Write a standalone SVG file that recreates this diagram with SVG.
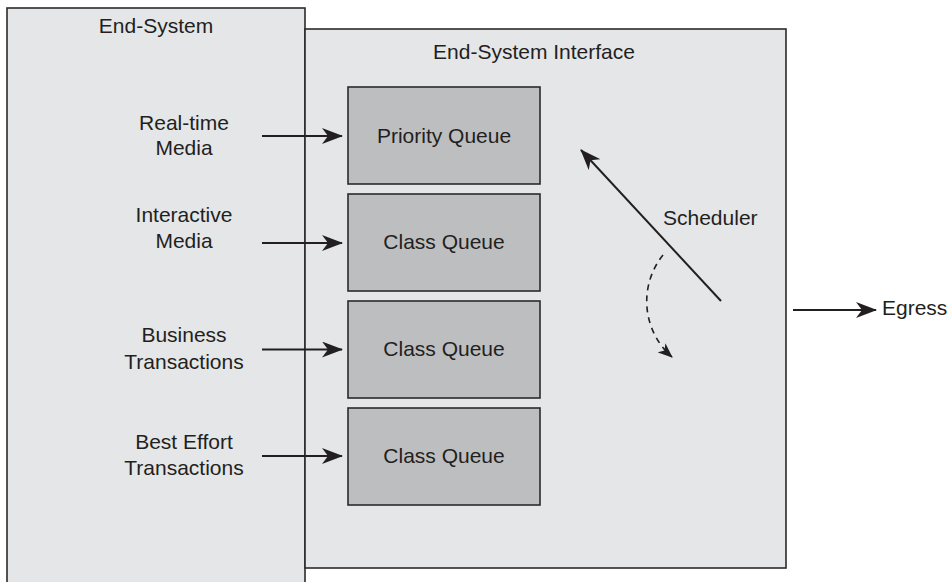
<svg xmlns="http://www.w3.org/2000/svg" width="952" height="582" viewBox="0 0 952 582">
<style>
.box{fill:#e5e6e8;stroke:#2b2b2b;stroke-width:1.6}
.q{fill:#bdbec0;stroke:#2b2b2b;stroke-width:1.6}
text{font-family:"Liberation Sans",Arial,sans-serif;font-size:21px;fill:#231f20}
.c{text-anchor:middle}
.ln{stroke:#231f20;stroke-width:2;fill:none}
.dash{stroke:#231f20;stroke-width:1.6;fill:none;stroke-dasharray:6 5}
</style>
<defs>
<marker id="ah" viewBox="0 0 21 16" refX="20" refY="8" markerWidth="21" markerHeight="16" markerUnits="userSpaceOnUse" orient="auto">
<path d="M0,0 L21,8 L0,16 L6,8 z" fill="#231f20"/>
</marker>
<marker id="ahs" viewBox="0 0 15 12" refX="14" refY="6" markerWidth="15" markerHeight="12" markerUnits="userSpaceOnUse" orient="auto">
<path d="M0,0 L15,6 L0,12 L4,6 z" fill="#231f20"/>
</marker>
</defs>
<g id="end-system">
<rect class="box" x="7" y="8" width="298" height="600"/>
<text class="c" x="156" y="33">End-System</text>
</g>
<g id="end-system-interface">
<rect class="box" x="305" y="29" width="481" height="539"/>
<text class="c" x="534" y="59">End-System Interface</text>
</g>
<g id="priority-queue">
<rect class="q" x="348" y="87" width="192" height="97"/>
<text class="c" x="444" y="143">Priority Queue</text>
</g>
<g id="class-queue-1">
<rect class="q" x="348" y="194" width="192" height="97"/>
<text class="c" x="444" y="249">Class Queue</text>
</g>
<g id="class-queue-2">
<rect class="q" x="348" y="301" width="192" height="97"/>
<text class="c" x="444" y="356">Class Queue</text>
</g>
<g id="class-queue-3">
<rect class="q" x="348" y="408" width="192" height="97"/>
<text class="c" x="444" y="463">Class Queue</text>
</g>
<g id="label-realtime">
<text class="c" x="184" y="130">Real-time</text>
<text class="c" x="184" y="155">Media</text>
</g>
<g id="label-interactive">
<text class="c" x="184" y="222">Interactive</text>
<text class="c" x="184" y="248">Media</text>
</g>
<g id="label-business">
<text class="c" x="184" y="342">Business</text>
<text class="c" x="184" y="369">Transactions</text>
</g>
<g id="label-besteffort">
<text class="c" x="184" y="449">Best Effort</text>
<text class="c" x="184" y="475">Transactions</text>
</g>
<g id="scheduler-label">
<text x="663" y="225">Scheduler</text>
</g>
<g id="egress">
<text x="882" y="315">Egress</text>
</g>
<g id="connectors">
<line class="ln" x1="262" y1="136" x2="342" y2="136" marker-end="url(#ah)"/>
<line class="ln" x1="262" y1="243" x2="342" y2="243" marker-end="url(#ah)"/>
<line class="ln" x1="262" y1="349.5" x2="342" y2="349.5" marker-end="url(#ah)"/>
<line class="ln" x1="262" y1="456" x2="342" y2="456" marker-end="url(#ah)"/>
<line class="ln" x1="721" y1="301" x2="581" y2="150" marker-end="url(#ah)"/>
<path class="dash" d="M663,255 A74,74 0 0 0 672,357" marker-end="url(#ahs)"/>
<line class="ln" x1="793" y1="310" x2="876" y2="310" marker-end="url(#ah)"/>
</g>
</svg>
